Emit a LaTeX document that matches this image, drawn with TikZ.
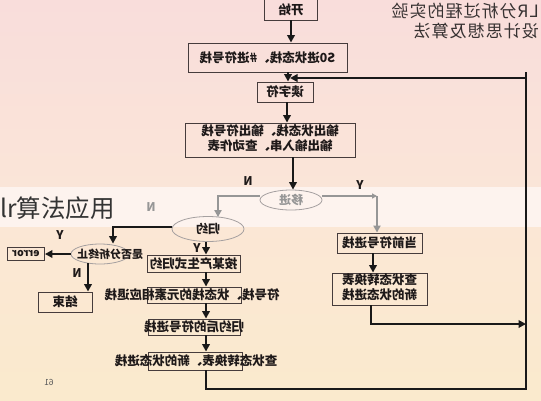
\documentclass[tikz,border=0pt]{standalone}
\usepackage{fontspec}
\usepackage{graphicx}
\setmainfont{Noto Sans CJK SC}
\usetikzlibrary{arrows.meta,shapes.geometric}
\definecolor{pinkA}{RGB}{249,221,219}
\definecolor{peachA}{RGB}{250,229,216}
\definecolor{bandc}{RGB}{253,243,238}
\definecolor{beigeA}{RGB}{251,231,213}
\definecolor{beigeB}{RGB}{250,234,205}
\definecolor{boxc}{RGB}{70,60,60}
\definecolor{txtc}{RGB}{30,25,25}
\definecolor{grayc}{RGB}{150,150,150}
\definecolor{elc}{RGB}{165,160,160}
\definecolor{titc}{RGB}{55,50,50}
\begin{document}
\begin{tikzpicture}[x=1pt,y=-1pt,
  bx/.style={draw=boxc,line width=0.9pt,inner sep=0pt,text=txtc,
    font=\fontsize{12.5}{14}\selectfont\bfseries},
  tx/.style={inner sep=0pt,text=txtc,font=\fontsize{12.5}{14}\selectfont\bfseries},
  el/.style={ellipse,draw=elc,line width=0.8pt,inner sep=0pt},
  arr/.style={line width=2.3pt,draw=black!90,-{Triangle[length=7.5pt,width=7.5pt]}},
  plainline/.style={line width=2.3pt,draw=black!90},
  garr/.style={line width=2.4pt,draw=grayc,-{Triangle[length=7pt,width=7pt]}},
  garrs/.style={line width=2.4pt,draw=grayc,-{Triangle[length=5pt,width=5pt]}},
  lbl/.style={inner sep=0pt,font=\fontsize{12}{14}\selectfont\bfseries,text=txtc},
  glbl/.style={inner sep=0pt,font=\fontsize{12}{14}\selectfont\bfseries,text=grayc}]
% background
\fill[top color=pinkA,bottom color=peachA] (0,0) rectangle (541,187);
\fill[bandc] (0,187) rectangle (541,227);
\fill[top color=beigeA,bottom color=beigeB] (0,227) rectangle (541,400);
\useasboundingbox (0,0) rectangle (541,400);

% title
\node[inner sep=0pt,anchor=east,text=titc,font=\fontsize{17}{19.5}\selectfont] (title) at (539,23.5)
  {\reflectbox{\addfontfeatures{LetterSpace=6}\begin{tabular}{@{}l@{}}LR分析过程的实验\\设计思想及算法\end{tabular}}};
% overlay caption
\node[inner sep=0pt,anchor=west,text=black!80,font=\fontsize{24.5}{27}\selectfont] (cap) at (0,208) {lr算法应用};

% nodes
\node[bx,minimum width=53pt,minimum height=21pt] (start) at (291,9.5) {\reflectbox{开始}};
\node[bx,minimum width=159pt,minimum height=29pt] (s0) at (267.5,57.5) {\reflectbox{S0进状态栈、\#进符号栈}};
\node[bx,minimum width=56pt,minimum height=20pt] (read) at (285,92) {\reflectbox{读字符}};
\node[bx,minimum width=170pt,minimum height=34pt,font=\fontsize{12.5}{15}\selectfont\bfseries] (out) at (270,140)
  {\reflectbox{\begin{tabular}{@{}c@{}}输出状态栈、输出符号栈\\输出输入串、查动作表\end{tabular}}};
\node[el,minimum width=62pt,minimum height=20pt,text=grayc,font=\fontsize{12}{14}\selectfont\bfseries] (shift) at (291,200) {\reflectbox{移进}};
\node[el,minimum width=72pt,minimum height=25pt,text=txtc,font=\fontsize{12}{14}\selectfont\bfseries] (reduce) at (208,229) {\reflectbox{归约}};
\node[el,minimum width=58pt,minimum height=20pt] (endq) at (100,254) {};
\node[tx,font=\fontsize{11}{13}\selectfont\bfseries] (endqt) at (110,254) {\reflectbox{是否分析终止}};
\node[bx,minimum width=37pt,minimum height=13pt,font=\fontsize{10.5}{12}\selectfont\bfseries] (err) at (26,253.5) {\reflectbox{error}};
\node[bx,minimum width=54pt,minimum height=20pt] (endb) at (65,302) {\reflectbox{结束}};
\node[bx,minimum width=93pt,minimum height=17pt] (prod) at (193.5,263.5) {\reflectbox{按某产生式归约}};
\node[bx,minimum width=94pt,minimum height=16pt] (pop) at (194,295) {};
\node[tx] (popt) at (192,295) {\reflectbox{符号栈、状态栈的元素相应退栈}};
\node[bx,minimum width=92pt,minimum height=16pt] (pa) at (194,327) {};
\node[tx] (pat) at (194,327) {\reflectbox{归约后的符号进栈}};
\node[bx,minimum width=94pt,minimum height=18pt] (goto) at (195,361) {};
\node[tx] (gotot) at (196,361) {\reflectbox{查状态转换表、新的状态进栈}};
\node[bx,minimum width=85pt,minimum height=20pt] (cur) at (379.5,243) {\reflectbox{当前符号进栈}};
\node[bx,minimum width=95pt,minimum height=32pt,font=\fontsize{12.5}{15}\selectfont\bfseries] (g2) at (379.5,289)
  {\reflectbox{\begin{tabular}{@{}c@{}}查状态转换表\\新的状态进栈\end{tabular}}};

% labels
\node[lbl] (lN1) at (248,181) {\reflectbox{N}};
\node[lbl] (lY1) at (360,185) {\reflectbox{Y}};
\node[glbl] (lN2) at (151,207) {\reflectbox{N}};
\node[lbl] (lY2) at (60,235) {\reflectbox{Y}};
\node[lbl] (lY3) at (197,248) {\reflectbox{Y}};
\node[lbl] (lN3) at (77,273) {\reflectbox{N}};
\node[inner sep=0pt,text=black!65,font=\fontsize{8.5}{10}\selectfont] (pg) at (49,382) {\reflectbox{61}};

% coordinates
\coordinate (c206) at (206,0);
\coordinate (gc) at (377,196);
\coordinate (rb) at (526,389);
\coordinate (rt) at (526,72);
\coordinate (rj) at (526,78);
\coordinate (lj) at (290,78);
\coordinate (rm) at (526,324);

% connectors
\draw[arr] (start.south) -- (start.south |- s0.north);
\draw[arr] ([xshift=3pt]read.north |- s0.south) -- ([xshift=3pt]read.north);
\draw[plainline] (goto.south -| c206) |- (rb) -- (rt);
\draw[arr] (rj) -- (lj);
\draw[arr] ([xshift=2pt]read.south) -- ([xshift=2pt]read.south |- out.north);
\draw[arr] ([xshift=2pt]shift.north |- out.south) -- ([xshift=2pt]shift.north);
\draw[garr] ([yshift=4pt]shift.west) -| ([xshift=10pt,yshift=-1pt]reduce.north);
\draw[garrs] ([yshift=4pt]shift.east) -- (gc);
\draw[garr] (gc) -- (gc |- cur.north);
\draw[arr] ([yshift=2pt]reduce.west) -| ([xshift=13pt]endq.north);
\draw[arr] ([xshift=-2pt]reduce.south) -- ([xshift=-2pt]reduce.south |- prod.north);
\draw[arr] (endq.west) -- (endq.west -| err.east);
\draw[arr] ([xshift=-12pt,yshift=1pt]endq.south) -- ([xshift=-12pt]endq.south |- endb.north);
\draw[arr] (prod.south -| c206) -- (pop.north -| c206);
\draw[arr] (pop.south -| c206) -- (pa.north -| c206);
\draw[arr] (pa.south -| c206) -- (goto.north -| c206);
\draw[arr] ([xshift=-6.5pt]cur.south) -- ([xshift=-6.5pt]cur.south |- g2.north);
\draw[arr] ([xshift=-8.5pt]g2.south) |- (rm);
\end{tikzpicture}
\end{document}
